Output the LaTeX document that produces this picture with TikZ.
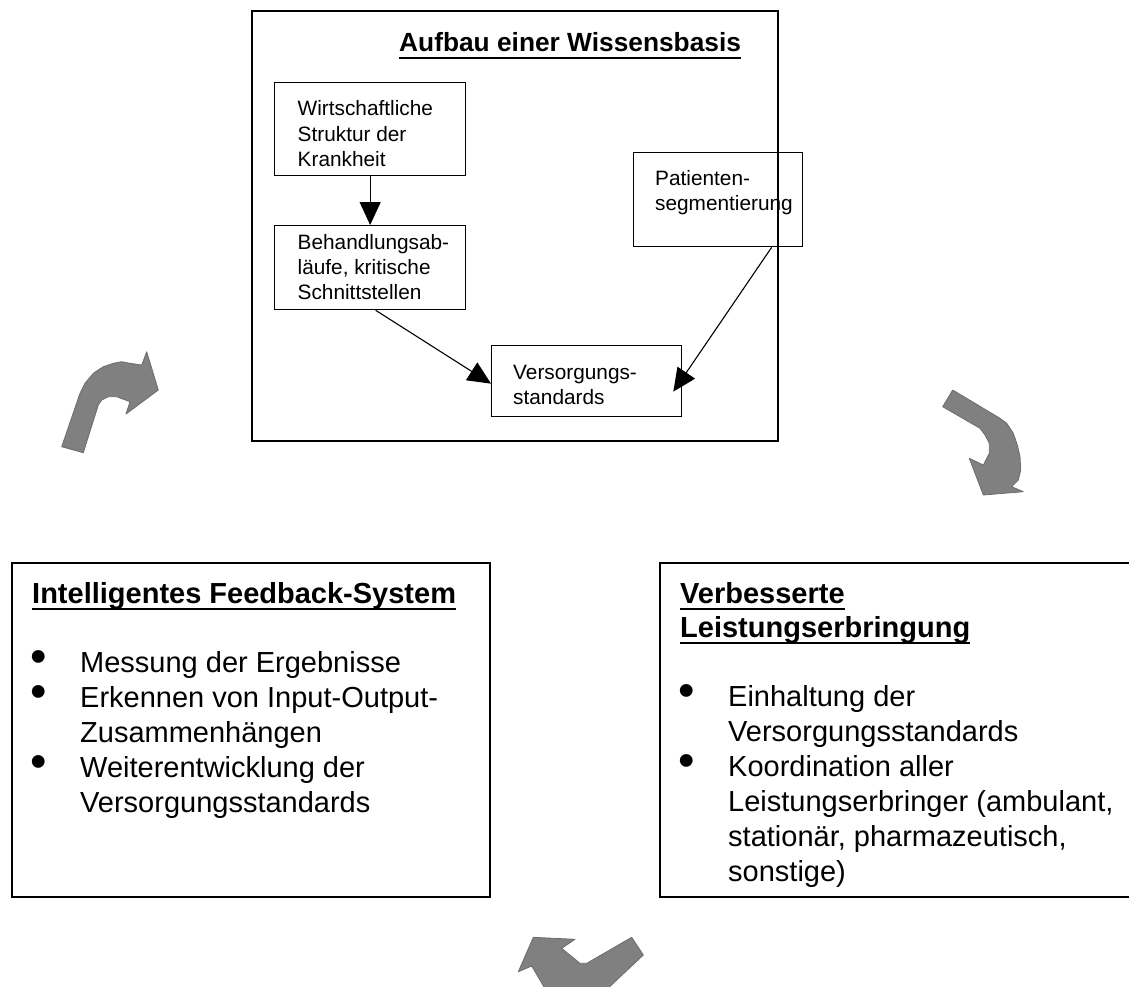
\documentclass[tikz,border=0pt]{standalone}
\usepackage{fontspec}
\setmainfont{Liberation Sans}
\usetikzlibrary{arrows.meta}

\definecolor{arrowgray}{RGB}{128,128,128}
\definecolor{arrowedge}{RGB}{108,108,108}

\tikzset{
  frame/.style={draw=black, line width=1.6pt, inner sep=0pt, anchor=north west},
  smallbox/.style={draw=black, line width=1.3pt, inner sep=0pt, anchor=north west},
  smalltxt/.style={anchor=base west, inner sep=0pt, font=\fontsize{20.8}{25}\selectfont},
  bodytxt/.style={anchor=base west, inner sep=0pt, font=\fontsize{29}{35}\selectfont},
  headtxt/.style={anchor=base west, inner sep=0pt, font=\fontsize{29}{35}\selectfont\bfseries},
  titletxt/.style={anchor=base west, inner sep=0pt, font=\fontsize{26.3}{30}\selectfont\bfseries},
  dot/.style={anchor=base, inner sep=0pt, font=\fontsize{47}{47}\selectfont},
  link/.style={line width=1.1pt, -{Triangle[length=23pt,width=21pt]}},
  turn/.style={fill=arrowgray, draw=arrowedge, line width=0.8pt, line join=round},
  uline/.style={line width=2.6pt}
}

\begin{document}
\begin{tikzpicture}[x=1pt,y=-1pt]
\useasboundingbox (0,0) rectangle (1129,986);
\clip (0,0) rectangle (1129,986);

% ---------- knowledge base ----------
\node[frame, minimum width=526, minimum height=430] (kb) at (251,10) {};
\node[titletxt] (kbtitle) at (399,51.6) {Aufbau einer Wissensbasis};
\draw[uline] ([yshift=-6.5pt]kbtitle.base west) -- ([yshift=-6.5pt]kbtitle.base east);

\node[smallbox, minimum width=191, minimum height=93] (b1) at (274,82) {};
\node[smallbox, minimum width=191, minimum height=84] (b2) at (274,225) {};
\node[smallbox, minimum width=169, minimum height=94] (b3) at (633,152) {};
\node[smallbox, minimum width=190, minimum height=71] (b4) at (491,345) {};

\node[smalltxt] (b1a) at (297.5,115.5) {Wirtschaftliche};
\node[smalltxt] (b1b) at (297.5,141) {Struktur der};
\node[smalltxt] (b1c) at (297.5,166.5) {Krankheit};

\node[smalltxt] (b2a) at (297.5,249) {Behandlungsab-};
\node[smalltxt] (b2b) at (297.5,274) {läufe, kritische};
\node[smalltxt] (b2c) at (297.5,299) {Schnittstellen};

\node[smalltxt] (b3a) at (655,185.5) {Patienten-};
\node[smalltxt] (b3b) at (655,210.5) {segmentierung};

\node[smalltxt] (b4a) at (513,379) {Versorgungs-};
\node[smalltxt] (b4b) at (513,404) {standards};

\draw[link] (b1.south) -- (b2.north);
\draw[link] ([xshift=5.5pt]b2.south) -- ([yshift=-2.5pt]b4.west);
\draw[link] ([xshift=53.5pt]b3.south) -- ([xshift=-9pt,yshift=-10.5pt]b4.east);

% ---------- feedback system ----------
\node[frame, minimum width=478, minimum height=334] (fb) at (11,562) {};
\node[headtxt] (fbhead) at (32,603) {Intelligentes Feedback-System};
\draw[uline] ([yshift=-6pt]fbhead.base west) -- ([yshift=-6pt]fbhead.base east);

\node[dot] (fbd1) at (38.3,672) {•};
\node[dot] (fbd2) at (38.3,707) {•};
\node[dot] (fbd3) at (38.3,777) {•};
\node[bodytxt] (fb1) at (80,672) {Messung der Ergebnisse};
\node[bodytxt] (fb2) at (80,707) {Erkennen von Input-Output-};
\node[bodytxt] (fb3) at (80,742) {Zusammenhängen};
\node[bodytxt] (fb4) at (80,777) {Weiterentwicklung der};
\node[bodytxt] (fb5) at (80,812) {Versorgungsstandards};

% ---------- improved delivery ----------
\node[frame, minimum width=490, minimum height=334] (ld) at (659,562) {};
\node[headtxt] (ldhead1) at (680,603) {Verbesserte};
\node[headtxt] (ldhead2) at (680,637) {Leistungserbringung};
\draw[uline] ([yshift=-6pt]ldhead1.base west) -- ([yshift=-6pt]ldhead1.base east);
\draw[uline] ([yshift=-6pt]ldhead2.base west) -- ([yshift=-6pt]ldhead2.base east);

\node[dot] (ldd1) at (686.7,706) {•};
\node[dot] (ldd2) at (686.7,776) {•};
\node[bodytxt] (ld1) at (728,706) {Einhaltung der};
\node[bodytxt] (ld2) at (728,741) {Versorgungsstandards};
\node[bodytxt] (ld3) at (728,776) {Koordination aller};
\node[bodytxt] (ld4) at (728,811) {Leistungserbringer (ambulant,};
\node[bodytxt] (ld5) at (728,846) {stationär, pharmazeutisch,};
\node[bodytxt] (ld6) at (728,881) {sonstige)};

% ---------- cycle arrows ----------
\draw[turn] (61.7,446.7) -- (80,393.3) -- (85,383.3) -- (93.3,373.3) -- (103.3,366.7)
  -- (113.3,363.3) -- (121.7,361.7) -- (130,363.3) -- (141.7,365)
  -- (146.7,351.7) -- (158.3,390) -- (126,414)
  -- (130,401.7) -- (116.7,396.7) -- (108.3,396.7) -- (101.7,400) -- (98.3,405)
  -- (83.3,452.7) -- cycle;

\draw[turn] (952.7,390) -- (1000,418.3) -- (1006.7,423.3) -- (1013.3,433.3) -- (1017.3,445)
  -- (1020,456.7) -- (1020.7,470) -- (1018.3,480) -- (1011.7,486.7)
  -- (1023.3,491.7) -- (983.3,495) -- (969.3,458.3)
  -- (983.3,465) -- (989.3,453.3) -- (989.3,443.3) -- (985,435) -- (980,428.3)
  -- (942.7,406.7) -- cycle;

\draw[turn] (533.3,937.3) -- (575,939.3) -- (561.7,948.3) -- (580,963.3) -- (586.7,963.3)
  -- (631.7,937.3) -- (643.3,955) -- (604,992) -- (547,992) -- (531.7,966)
  -- (518.3,971.7) -- cycle;
\end{tikzpicture}
\end{document}
